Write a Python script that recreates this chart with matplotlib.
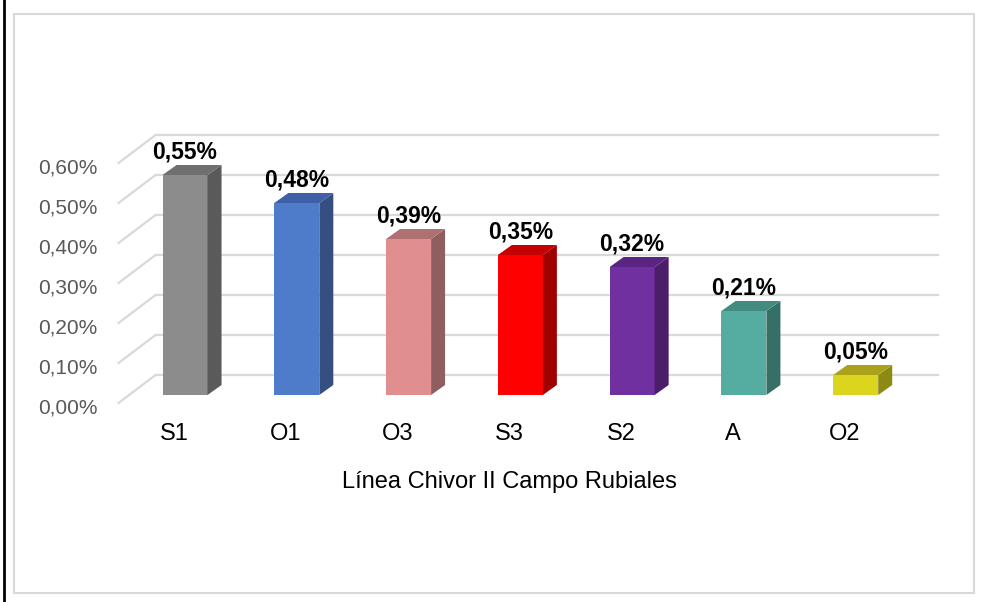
import matplotlib
matplotlib.use("Agg")
import matplotlib.pyplot as plt
from matplotlib.patches import Polygon, Rectangle
from matplotlib.lines import Line2D

plt.rcParams['font.family'] = ['Liberation Sans', 'DejaVu Sans']

# data
categories = ['S1', 'O1', 'O3', 'S3', 'S2', 'A', 'O2']
values = [0.55, 0.48, 0.39, 0.35, 0.32, 0.21, 0.05]
grid_values = [0.0, 0.1, 0.2, 0.3, 0.4, 0.5, 0.6]
tick_labels = ['0,00%', '0,10%', '0,20%', '0,30%', '0,40%', '0,50%', '0,60%']
axis_title = 'Línea Chivor II Campo Rubiales'

front_colors = ['#8c8c8c', '#4f7bcb', '#e08e8e', '#ff0000', '#7030a0', '#54ada0', '#dcd51e']
side_colors = ['#5a5a5a', '#354f80', '#8f5e5e', '#a00000', '#4a1e69', '#366f66', '#8d8a13']
top_colors = ['#6f6f6f', '#3f60a6', '#ae7070', '#c40000', '#5a2482', '#438a80', '#a9a21a']

fig = plt.figure(figsize=(9.95, 6.02), dpi=100)
W, H = 995.0, 602.0

# axes = front plane of the bars
ax_l, ax_r = 129.15, 911.6
ax_b, ax_t = 395.0, 155.0
ax = fig.add_axes([ax_l / W, 1 - ax_b / H, (ax_r - ax_l) / W, (ax_b - ax_t) / H])
ax.set_xlim(-0.5, 6.5)
ax.set_ylim(0, 0.6)
ax.axis('off')

# pixel -> data units
PX_X = 7.0 / (ax_r - ax_l)
PX_Y = 0.6 / (ax_b - ax_t)

# depth offsets (in pixels)
wall_dx, wall_dy = 26.4, 20.0     # bar front plane -> back wall
edge_dx, edge_dy = -10.6, -8.0    # bar front plane -> front edge
bar_dx, bar_dy = 14.0, 10.0       # bar depth
bar_w = 45.0 * PX_X

# back wall gridlines + left side wall lines
for g in grid_values:
    ax.plot([-0.5 + wall_dx * PX_X, 6.5 + wall_dx * PX_X],
            [g + wall_dy * PX_Y, g + wall_dy * PX_Y],
            color='#d9d9d9', lw=1.6, zorder=1, clip_on=False)
    ax.plot([-0.5 + edge_dx * PX_X, -0.5 + wall_dx * PX_X],
            [g + edge_dy * PX_Y, g + wall_dy * PX_Y],
            color='#d9d9d9', lw=1.6, zorder=1, clip_on=False)

# y tick labels at the front edge
for g, lbl in zip(grid_values, tick_labels):
    ax.text(-0.5 - 32 * PX_X, g - 18 * PX_Y, lbl, ha='right', va='baseline',
            fontsize=15, color='#595959', clip_on=False)

# bars
xs = list(range(len(categories)))
ax.bar(xs, values, width=bar_w, color=front_colors, zorder=3, clip_on=False)
bdx, bdy = bar_dx * PX_X, bar_dy * PX_Y
for i, v in enumerate(values):
    x0, x1 = i - bar_w / 2, i + bar_w / 2
    side = Polygon([(x1, 0), (x1 + bdx, bdy), (x1 + bdx, v + bdy), (x1, v)],
                   closed=True, facecolor=side_colors[i], edgecolor='none',
                   zorder=3, clip_on=False)
    top = Polygon([(x0, v), (x1, v), (x1 + bdx, v + bdy), (x0 + bdx, v + bdy)],
                  closed=True, facecolor=top_colors[i], edgecolor='none',
                  zorder=3, clip_on=False)
    ax.add_patch(side)
    ax.add_patch(top)
    ax.text(i, v + 16 * PX_Y, '{:.2f}%'.format(v).replace('.', ','),
            ha='center', va='baseline', fontsize=16.5, fontweight='bold',
            color='black', zorder=4, clip_on=False)

# category labels
for i, c in enumerate(categories):
    ax.text(i - 11 * PX_X, -45 * PX_Y, c, ha='center', va='baseline',
            fontsize=17, color='black', clip_on=False)

ax.text(3 - 11 * PX_X, -93 * PX_Y, axis_title, ha='center', va='baseline',
        fontsize=17, color='black', clip_on=False)

# chart frame and left black rule
fig.patches.append(Rectangle((14 / W, 1 - 593 / H), (974 - 14) / W, (593 - 14) / H,
                             transform=fig.transFigure, fill=False,
                             edgecolor='#d9d9d9', lw=1.5))
fig.lines.append(Line2D([4.5 / W, 4.5 / W], [0, 1], transform=fig.transFigure,
                        color='black', lw=2))

fig.savefig('out.png', dpi=100, facecolor='white')
